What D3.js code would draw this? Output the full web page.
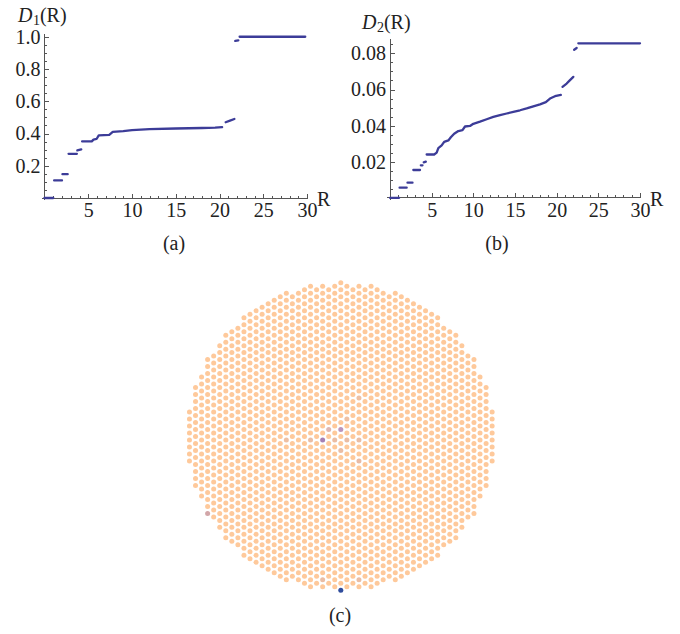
<!DOCTYPE html>
<html>
<head>
<meta charset="utf-8">
<script src="https://cdn.jsdelivr.net/npm/d3@7"></script>
<style>
body { margin: 0; background: #fff; }
.axis path, .axis line { stroke: #555; stroke-width: 1; shape-rendering: crispEdges; }
</style>
</head>
<body>
<svg id="fig" width="680" height="634"></svg>
<script>
const serif = "'Liberation Serif', 'Times New Roman', serif";

const d1Runs = [
    [[0, 0], [1.0, 0]],
    [[1.1, 0.109], [2.0, 0.109]],
    [[2.05, 0.148], [2.65, 0.148]],
    [[2.75, 0.274], [3.7, 0.274]],
    [[3.75, 0.295], [4.2, 0.302]],
    [[4.3, 0.351], [5.4, 0.351], [5.6, 0.362], [5.95, 0.366], [6.2, 0.388], [7.4, 0.392],
     [7.8, 0.41], [9, 0.415], [10, 0.421], [12, 0.427], [15, 0.431], [18, 0.434], [19.5, 0.436], [20.3, 0.44]],
    [[20.7, 0.47], [21.2, 0.48], [21.7, 0.49]],
    [[21.8, 0.974], [22.15, 0.978]],
    [[22.3, 1.0], [29.8, 1.0]]
];

const d2Runs = [
    [[0, 0], [1.1, 0]],
    [[1.15, 0.0056], [2.0, 0.0056]],
    [[2.1, 0.0084], [2.7, 0.0084]],
    [[2.8, 0.0154], [3.6, 0.0154]],
    [[3.7, 0.018], [3.9, 0.018]],
    [[4.05, 0.0196], [4.3, 0.02]],
    [[4.4, 0.024], [5.3, 0.024], [5.6, 0.025], [5.8, 0.0275], [6.2, 0.029], [6.5, 0.031],
     [7.0, 0.0318], [7.3, 0.0335], [7.7, 0.0355], [8.2, 0.037], [8.7, 0.0375], [9.0, 0.0395],
     [9.6, 0.0398], [10, 0.041], [10.8, 0.0422], [11.6, 0.0435], [12.4, 0.0448], [13.2, 0.0458],
     [14, 0.0467], [14.8, 0.0476], [15.6, 0.0485], [16.4, 0.0495], [17.2, 0.0507], [18, 0.0518],
     [18.7, 0.053], [19.2, 0.055], [19.8, 0.0563], [20.5, 0.057]],
    [[20.7, 0.0615], [21.2, 0.0633], [21.6, 0.0652], [22.0, 0.067]],
    [[22.1, 0.082], [22.4, 0.083]],
    [[22.6, 0.0856], [30, 0.0856]]
];

const rTicks = [5, 10, 15, 20, 25, 30];
const d1Ticks = [0.2, 0.4, 0.6, 0.8, 1.0];
const d2Ticks = [0.02, 0.04, 0.06, 0.08];

// panel (c): triangular lattice inside a disk of radius 22 (lattice units)
const latticeRadius = 22;
// coloured sites: [column i, row y, colour]
const markedSites = [
    [0, 22, "#2f4c9c"],
    [-2, 22, "#c9a2b9"],
    [2, 22, "#c9a2b9"],
    [-3, 0.5, "#a680b4"],
    [0, -1, "#bb95bd"],
    [-2, -1, "#dfb6b1"],
    [-22, 11, "#d2a6a8"],
    [-5, 0.5, "#ebbda3"],
    [-1, 0.5, "#ebbda3"],
    [1, 0.5, "#ebbda3"],
    [3, 0.5, "#ebbda3"],
    [-9, 0.5, "#efc0a2"],
    [0, 2, "#ebbda3"],
    [3, 3.5, "#e9baa3"],
    [1, -2.5, "#efc0a2"],
    [3, -5.5, "#efc0a2"],
    [-3, 20.5, "#ebbda3"],
    [3, 20.5, "#ebbda3"]
];

const svg = d3.select("#fig");
const dotColor = "#3c3c98";

function drawPanel(cfg) {
    let g = svg.append("g");

    let x = d3.scaleLinear().domain([0, 30]).range(cfg.xRange);
    let y = d3.scaleLinear().domain([0, cfg.yMax]).range(cfg.yRange);

    // minor ticks first, majors on top
    g.append("g")
        .attr("class", "axis")
        .attr("transform", `translate(0,${y(0)})`)
        .call(d3.axisBottom(x).tickValues(d3.range(1, 31)).tickSize(-2.5).tickFormat("").tickSizeOuter(0))
        .select(".domain").remove();
    let xAxis = g.append("g")
        .attr("class", "axis")
        .attr("transform", `translate(0,${y(0)})`)
        .call(d3.axisBottom(x).tickValues(rTicks).tickSize(-4.5).tickSizeOuter(0).tickPadding(5));
    xAxis.select(".domain").attr("d", `M${x(0) - 3},0H${x(30) + 1}`);
    xAxis.attr("font-family", serif).attr("font-size", 20);
    xAxis.selectAll("text").attr("fill", "#222");

    g.append("g")
        .attr("class", "axis")
        .attr("transform", `translate(${x(0)},0)`)
        .call(d3.axisLeft(y).tickValues(cfg.minor).tickSize(-2.5).tickFormat("").tickSizeOuter(0))
        .select(".domain").remove();
    let yAxis = g.append("g")
        .attr("class", "axis")
        .attr("transform", `translate(${x(0)},0)`)
        .call(d3.axisLeft(y).tickValues(cfg.ticks).tickSize(-4.5).tickSizeOuter(0)
            .tickPadding(4).tickFormat(cfg.format));
    yAxis.select(".domain").attr("d", `M0,${y(0) + 2}V${y(cfg.yMax)}`);
    yAxis.attr("font-family", serif).attr("font-size", 20);
    yAxis.selectAll("text").attr("fill", "#222");

    // data
    let line = d3.line().x(d => x(d[0])).y(d => y(d[1]));
    g.selectAll("path.run")
        .data(cfg.runs)
        .join("path")
        .attr("class", "run")
        .attr("d", line)
        .attr("fill", "none")
        .attr("stroke", dotColor)
        .attr("stroke-width", 2.3)
        .attr("stroke-linecap", "round")
        .attr("stroke-linejoin", "round");

    // axis labels
    let lab = g.append("text")
        .attr("x", cfg.labelPos[0])
        .attr("y", cfg.labelPos[1])
        .attr("font-family", serif)
        .attr("font-size", 20)
        .attr("fill", "#222");
    lab.append("tspan").attr("font-style", "italic").text("D");
    lab.append("tspan").attr("font-size", 14).attr("dx", 0.5).attr("dy", 3).text(cfg.sub);
    lab.append("tspan").attr("dy", -3).text("(R)");

    g.append("text")
        .attr("x", x(30) + 10)
        .attr("y", y(0) + 8)
        .attr("font-family", serif)
        .attr("font-size", 20)
        .attr("fill", "#222")
        .text("R");

    g.append("text")
        .attr("x", cfg.caption[0])
        .attr("y", cfg.caption[1])
        .attr("text-anchor", "middle")
        .attr("font-family", serif)
        .attr("font-size", 20)
        .attr("fill", "#222")
        .text(cfg.captionText);
}

drawPanel({
    xRange: [44.5, 307],
    yMax: 1.02,
    yRange: [198, 198 - 1.02 * 161.25],
    ticks: d1Ticks,
    minor: d3.range(0.05, 1.0001, 0.05),
    format: d3.format(".1f"),
    runs: d1Runs,
    labelPos: [18, 22],
    sub: "1",
    caption: [174, 250],
    captionText: "(a)"
});

drawPanel({
    xRange: [390, 640],
    yMax: 0.0878,
    yRange: [197.8, 197.8 - 0.0878 * 1805],
    ticks: d2Ticks,
    minor: d3.range(0.005, 0.0851, 0.005),
    format: d3.format(".2f"),
    runs: d2Runs,
    labelPos: [362, 29],
    sub: "2",
    caption: [497, 250],
    captionText: "(b)"
});

// lattice panel
const cx = 340.8, cy = 436.5, unit = 6.99;
const latX = d3.scaleLinear().domain([0, 1]).range([cx, cx + unit]);
const latY = d3.scaleLinear().domain([0, 1]).range([cy, cy + unit]);

let sites = [];
let nCol = Math.floor(latticeRadius / (Math.sqrt(3) / 2));
for (let i = -nCol; i <= nCol; i++) {
    let off = Math.abs(i) % 2 === 1 ? 0.5 : 0;
    for (let j = -latticeRadius - 1; j <= latticeRadius + 1; j++) {
        let yy = j + off, xx = i * Math.sqrt(3) / 2;
        if (xx * xx + yy * yy <= latticeRadius * latticeRadius + 1e-6) sites.push({ i: i, x: xx, y: yy });
    }
}
let colorOf = new Map(markedSites.map(m => [m[0] + "," + m[1], m[2]]));

svg.append("g")
    .selectAll("circle")
    .data(sites)
    .join("circle")
    .attr("cx", d => latX(d.x))
    .attr("cy", d => latY(d.y))
    .attr("r", 2.5)
    .attr("fill", d => colorOf.get(d.i + "," + d.y) || "#fec99b");

svg.append("text")
    .attr("x", 340)
    .attr("y", 622)
    .attr("text-anchor", "middle")
    .attr("font-family", serif)
    .attr("font-size", 20)
    .attr("fill", "#222")
    .text("(c)");
</script>
</body>
</html>
